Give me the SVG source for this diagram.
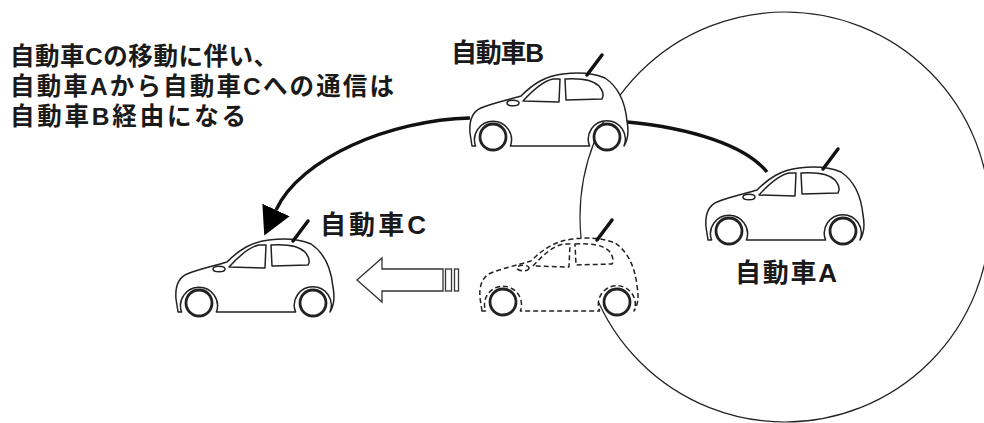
<svg xmlns="http://www.w3.org/2000/svg" xmlns:xlink="http://www.w3.org/1999/xlink" width="984" height="423" viewBox="0 0 984 423">
  <style>
    .lbl { font-family: "Liberation Sans", "Noto Sans CJK JP", sans-serif; font-weight: bold; font-size: 24.5px; fill: #1a1a1a; }
    .big { font-size: 26px; }
    .body { fill: #fff; stroke: #222; stroke-width: 1.5; stroke-linejoin: round; }
    .trim { fill: #fff; stroke: #222; stroke-width: 1.5; stroke-linejoin: round; }
    .wheel { fill: #fff; stroke: #222; stroke-width: 2.8; stroke-dasharray: none; }
    .antenna { stroke: #111; stroke-width: 3.5; stroke-linecap: round; stroke-dasharray: none; }
    .solid { stroke-dasharray: none; }
    .ghost { stroke-dasharray: 5 3; }
    .link { fill: none; stroke: #111; stroke-width: 3.4; }
    .range { fill: none; stroke: #222; stroke-width: 1.2; }
    .move { fill: #fff; stroke: #333; stroke-width: 1.3; }
  </style>
  <defs>
    <marker id="ah" markerUnits="userSpaceOnUse" viewBox="0 0 28 30" markerWidth="28" markerHeight="30" refX="0" refY="15" orient="auto">
      <path d="M0,0 L28,15 L0,30 Z" fill="#000"/>
    </marker>
    <!-- compact hatchback, side view; origin = front wheel centre -->
    <g id="car">
      <path class="body" d="M -21,9 L -23,-4 C -24,-16 -21,-25 -12,-29 C 0,-34 15,-37 28,-41 C 40,-53 52,-61 70,-63 C 85,-65 100,-64 112,-59 C 124,-51 132,-36 134,-16 C 136,-5 135,3 131,9 A 18.5 18.5 0 1 0 96.6,9 L 17.4,9 A 18.5 18.5 0 1 0 -17.4,9 Z"/>
      <path class="trim" d="M 30,-36 C 40,-47 50,-56 60,-58 L 67,-58 L 66,-35 Z"/>
      <path class="trim" d="M 72,-58 C 88,-59 100,-57 106,-51 C 110,-46 111,-41 109,-38 L 73,-37 Z"/>
      <ellipse class="trim" cx="20" cy="-34" rx="6" ry="2.8"/>
      <circle class="wheel" cx="0" cy="0" r="13"/>
      <circle class="wheel" cx="114" cy="0" r="13"/>
      <line class="antenna" x1="94" y1="-62" x2="109" y2="-82"/>
    </g>
  </defs>

  <rect width="984" height="423" fill="#fff"/>

  <!-- radio range of car A -->
  <circle class="range" cx="785" cy="217" r="205"/>

  <g id="connectors">
    <path class="link" d="M470,118 C 390,120 300,158 276,210" marker-end="url(#ah)"/>
    <path class="link" d="M627,122 C 690,128 745,145 767,172"/>
    <!-- movement arrow -->
    <g id="move-arrow">
      <polygon class="move" points="357,280 382,258 382,269 443,269 443,291 382,291 382,302"/>
      <rect class="move" x="445.5" y="269" width="6" height="22"/>
      <rect class="move" x="454.5" y="269" width="4" height="22"/>
    </g>
  </g>

  <g id="car-c-before">
    <use xlink:href="#car" transform="translate(503,302)" class="ghost"/>
  </g>

  <g id="car-a">
    <use xlink:href="#car" transform="translate(729,231)" class="solid"/>
    <text class="lbl big" x="735" y="282" textLength="102" lengthAdjust="spacing">自動車A</text>
  </g>

  <g id="car-b">
    <use xlink:href="#car" transform="translate(493,137)" class="solid"/>
    <text class="lbl big" x="451" y="62" textLength="93" lengthAdjust="spacing">自動車B</text>
  </g>

  <g id="car-c">
    <use xlink:href="#car" transform="translate(199,303)" class="solid"/>
    <text class="lbl big" x="320" y="234" textLength="106" lengthAdjust="spacing">自動車C</text>
  </g>

  <g id="note">
    <text class="lbl" x="10" y="65" textLength="268" lengthAdjust="spacing">自動車Cの移動に伴い、</text>
    <text class="lbl" x="10" y="95" textLength="384" lengthAdjust="spacing">自動車Aから自動車Cへの通信は</text>
    <text class="lbl" x="10" y="125" textLength="236" lengthAdjust="spacing">自動車B経由になる</text>
  </g>
</svg>
